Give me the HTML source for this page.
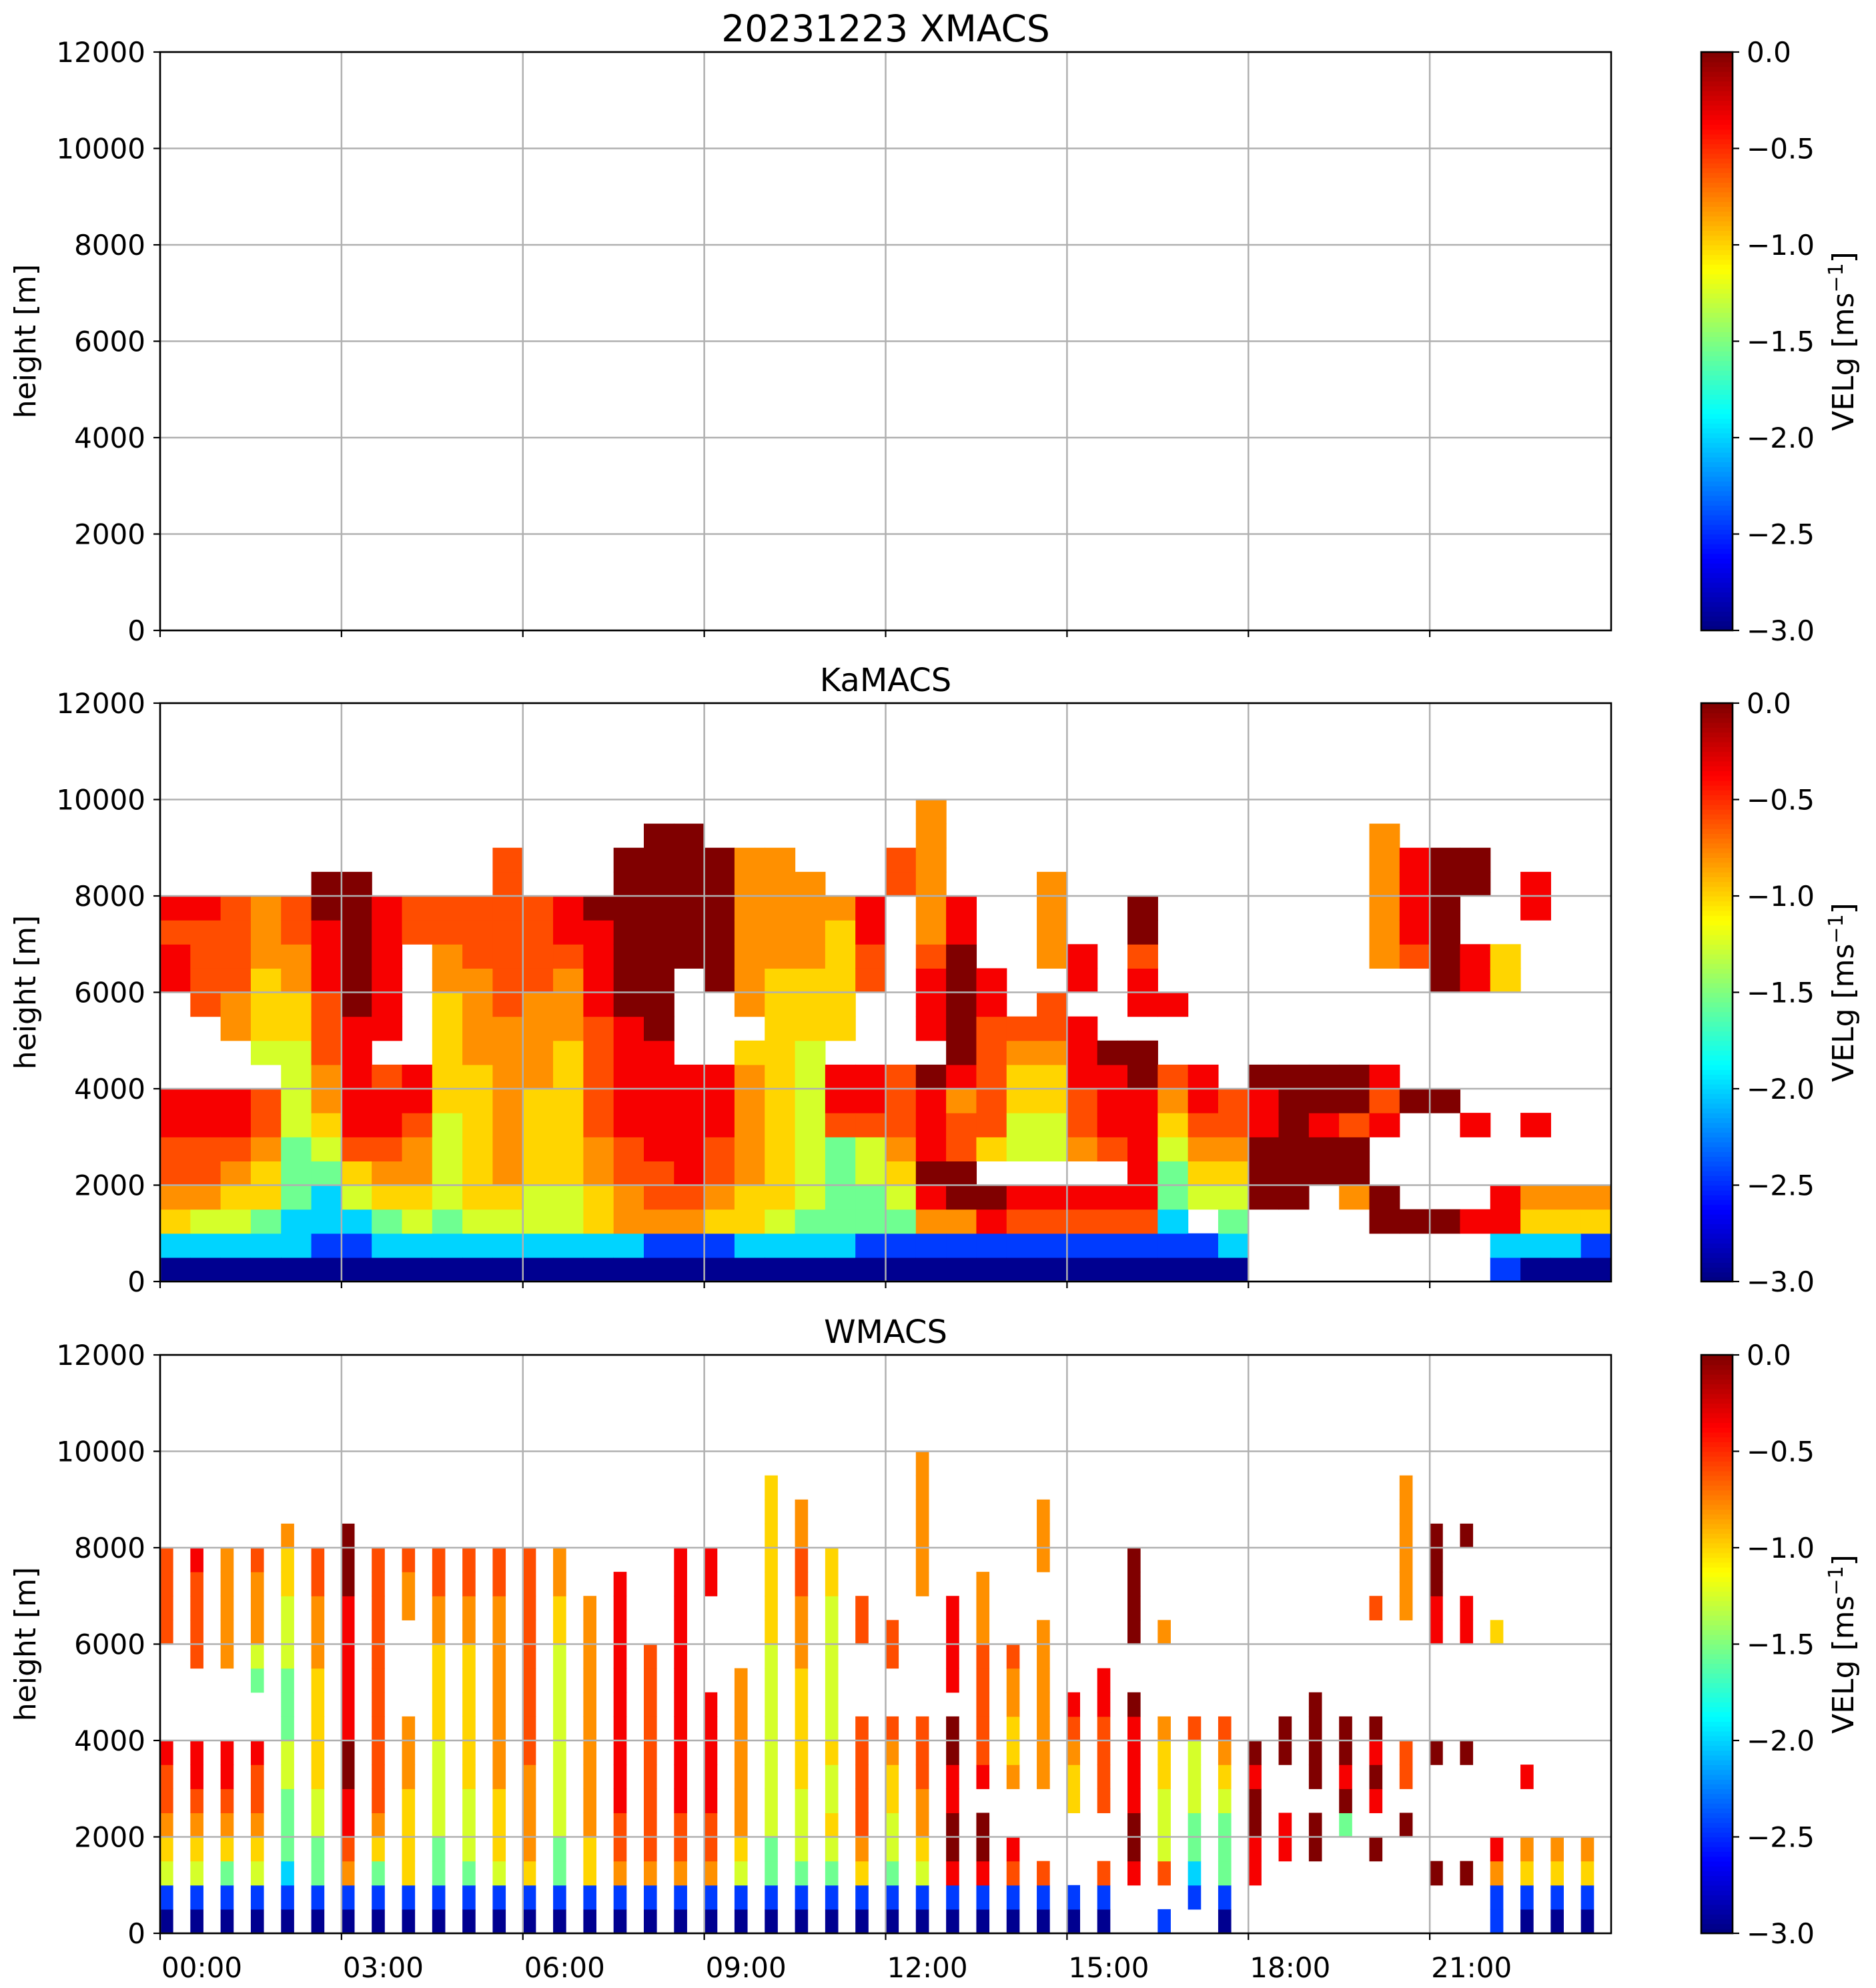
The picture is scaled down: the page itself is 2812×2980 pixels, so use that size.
<!DOCTYPE html>
<html><head><meta charset="utf-8"><style>
html,body{margin:0;padding:0;background:#fff}
svg{display:block}
text{font-family:"DejaVu Sans","Liberation Sans",sans-serif;fill:#000}
</style></head><body>
<svg id="fig" width="2812" height="2980" viewBox="0 0 2812 2980" xmlns="http://www.w3.org/2000/svg">
<g id="plots"></g>
</svg>
<script>
// ---- data (30-min columns, 500 m rows from bottom; '.' = no echo; digit = velocity level) ----
const levelValues = [0.0, -0.35, -0.6, -0.8, -1.0, -1.25, -1.55, -2.0, -2.45, -2.95];
const yTicks = [0, 2000, 4000, 6000, 8000, 10000, 12000];
const xTickHours = [0, 3, 6, 9, 12, 15, 18, 21];
const xTickLabels = ["00:00","03:00","06:00","09:00","12:00","15:00","18:00","21:00"];
const cbTicks = [0.0, -0.5, -1.0, -1.5, -2.0, -2.5, -3.0];
const cbTickLabels = ["0.0","\u22120.5","\u22121.0","\u22121.5","\u22122.0","\u22122.5","\u22123.0"];
const panelTitles = ["20231223 XMACS", "KaMACS", "WMACS"];
const xmacsColumns = [];
const kaColumns = [
"97432211....1121........","97532211...22221........","97543211..332222........","97644322.5444333........",
"97766655554433 22........","98776543322211100.......","98754211111000000.......","976432112.111111........",
"975433211.....22........","9765555444443322........","9754444443333222........","975433333332222222......",
"975544443333222 2.......","9755444444333211........","9744332222211110........","973322111110000000......",
"9832211111000000000.....","983211111....000000.....","98432211 1...000000......","974433333 4.3333333......",
"975444444444433333......","9765555555444333 3.......","976666211.444443........","986655211...2211........",
"986543222.......22......","983101110.1112333333....","9830022310000011........","9810.42222211...........",
"9821.554432.............","9821.5544322.3333.......","9821.322111.11..........","9821.21110..............",
"9821111100.11200........","987665432..1............","98.543211...............","976543 22...............",
"...000110...............","...00000 0...............","....00100................","...300200...............",
"..00..121....333333.....","..0....0.....21111......","..0....0....000000......","..1...1.....11..00......",
"8711........44..........","9743..1........11.......","9743....................","9843...................."
];
const wColumns = [
"98543221....2222........","98543211...22221........","98643211...33333........","98543221..653332........",
"987666556665554 43.......","9866554444433322........","9832110011111100 0.......","9864322222222222........",
"984444333....332........","9866555544443322........","9865554444443322........","9854443333333322........",
"9843333222222222........","9866555555554433........","98443333333333..........","983221111111111.........",
"983222222222............","9832211111111111........","9832211111....11........","98543333333.............",
"986655555555444444 4.....","9865554444433322 33......","9865455455555544........","984322222...22..........",
"986554432..22...........","98543322 2.....333333....","981001100.1111..........","98100.122222333.........",
"9821..344332............","982...3333333..333.......","98...44321..............","982..222211.............",
"..10011110..0000........","8.2555443...3...........",".87665552................","986665432...............",
"..110010................","...11..00...............","...00.0000...............","....60100...............",
"...0.1010....2..........","....0.22.....333333.....","..0....0....11000.......","..0....0....11..0.......",
"8831........4...........","9843..1.................","9843....................","9843...................."
];
// ---- layout ----
const AX = {left:240, right:2415, tops:[78,1054,2031], h:867};
const CB = {left:2550, right:2597};
const T0 = 0, T1 = 24.0;
const WSTRIPE = 0.21; // W-band profile duration (h)

function xScale(h){ return AX.left + (h - T0)/(T1 - T0)*(AX.right - AX.left); }
function yScale(top, m){ return top + AX.h - m/12000*AX.h; }
function jet(v){
  let t = Math.max(0, Math.min(1, (v + 3)/3));
  const r = Math.max(0, Math.min(1, 1.5 - Math.abs(4*t - 3)));
  const g = Math.max(0, Math.min(1, 1.5 - Math.abs(4*t - 2)));
  const b = Math.max(0, Math.min(1, 1.5 - Math.abs(4*t - 1)));
  return "rgb(" + Math.round(r*255) + "," + Math.round(g*255) + "," + Math.round(b*255) + ")";
}
const NS = "http://www.w3.org/2000/svg";
const root = document.getElementById("plots");
function mk(tag, attrs, parent){
  const e = document.createElementNS(NS, tag);
  for (const k in attrs) e.setAttribute(k, attrs[k]);
  (parent || root).appendChild(e);
  return e;
}
function drawColumns(g, top, cols, width){
  cols.forEach((raw, ci) => {
    const s = raw.replace(/ /g, "").padEnd(24, ".");
    const t0 = ci*0.5;
    const t1 = width ? t0 + width : t0 + 0.5;
    for (let r = 0; r < 24; r++){
      const c = s[r];
      if (c === "." || c === undefined) continue;
      const v = levelValues[+c];
      const x0 = xScale(t0), x1 = xScale(t1);
      const y0 = yScale(top, (r+1)*500), y1 = yScale(top, r*500);
      const rect = mk("rect", {x:x0, y:y0, width:x1-x0+0.6, height:y1-y0+0.6, fill:jet(v)}, g);
      
      
    }
  });
}
const datasets = [xmacsColumns, kaColumns, wColumns];
AX.tops.forEach((top, pi) => {
  const g = mk("g", {});
  
  
  const dg = mk("g", {}, g);
  
  
  drawColumns(dg, top, datasets[pi], pi === 2 ? WSTRIPE : 0);
  const gg = mk("g", {stroke:"#b0b0b0", "stroke-width":2.5}, g);
  
  
  xTickHours.forEach(h => { const x = xScale(h); mk("line", {x1:x, x2:x, y1:top, y2:top+AX.h}, gg); });
  yTicks.forEach(m => { const y = yScale(top, m); mk("line", {x1:AX.left, x2:AX.right, y1:y, y2:y}, gg); });
  const fr = mk("rect", {x:AX.left, y:top, width:AX.right-AX.left, height:AX.h, fill:"none", stroke:"#000", "stroke-width":2.6}, g);
  
  
  yTicks.forEach(m => {
    const y = yScale(top, m);
    mk("line", {x1:AX.left-10, x2:AX.left, y1:y, y2:y, stroke:"#000", "stroke-width":2.2}, g);
    const t = mk("text", {x:218, y:y+15, "font-size":42, "text-anchor":"end"}, g);
    t.textContent = String(m);
    
    
  });
  xTickHours.forEach((h, i) => {
    const x = xScale(h);
    mk("line", {x1:x, x2:x, y1:top+AX.h, y2:top+AX.h+10, stroke:"#000", "stroke-width":2.2}, g);
    if (pi === 2){
      const t = mk("text", {x:x+2, y:2964, "font-size":42, "text-anchor":"start"}, g);
      t.textContent = xTickLabels[i];
      
      
    }
  });
  const tt = mk("text", {x:(AX.left+AX.right)/2, y: pi===0 ? 62 : top-18, "font-size": pi===0 ? 55 : 48, "text-anchor":"middle"}, g);
  tt.textContent = panelTitles[pi];
  
  
  const yl = mk("text", {x:0, y:0, "font-size":44, "text-anchor":"middle", transform:"translate(53," + (top+AX.h/2) + ") rotate(-90)"}, g);
  yl.textContent = "height [m]";
  
  
  const cb = mk("g", {}, g);
  
  
  const N = 120;
  for (let i = 0; i < N; i++){
    const v = -3 + (i+0.5)*3/N;
    const y0 = top + AX.h - (i+1)*AX.h/N;
    mk("rect", {x:CB.left, y:y0, width:CB.right-CB.left, height:AX.h/N+0.8, fill:jet(v)}, cb);
  }
  mk("rect", {x:CB.left, y:top, width:CB.right-CB.left, height:AX.h, fill:"none", stroke:"#000", "stroke-width":2.6}, cb);
  cbTicks.forEach((v, i) => {
    const y = top + AX.h*(-v)/3;
    mk("line", {x1:CB.right, x2:CB.right+10, y1:y, y2:y, stroke:"#000", "stroke-width":2.2}, cb);
    const t = mk("text", {x:2618, y:y+15, "font-size":42}, cb);
    t.textContent = cbTickLabels[i];
    
    
  });
  const cl = mk("text", {x:0, y:0, "font-size":44, "text-anchor":"middle", transform:"translate(2778," + (top+AX.h/2) + ") rotate(-90)"}, cb);
  cl.innerHTML = 'VELg [ms<tspan dy="-16" font-size="30">\u22121</tspan><tspan dy="16">]</tspan>';
  
  
});
</script>
</body></html>
